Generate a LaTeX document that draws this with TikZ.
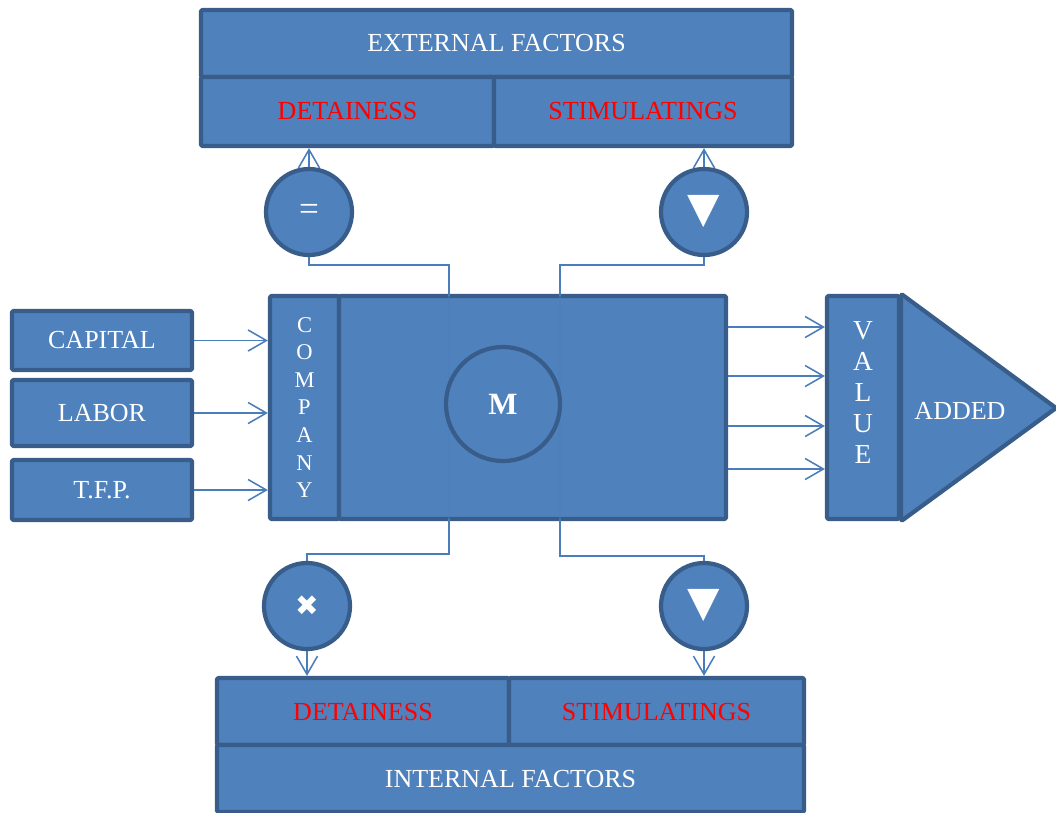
\documentclass[tikz,border=0pt]{standalone}
\usepackage{fontspec}
\setmainfont{Liberation Serif}
\newfontfamily\symfont{DejaVu Sans}
\usetikzlibrary{arrows.meta}

\definecolor{boxfill}{HTML}{4F81BD}
\definecolor{boxline}{HTML}{385D8A}
\definecolor{linkcol}{HTML}{4A7EBB}

\tikzset{
  box/.style={draw=boxline, fill=boxfill, line width=3pt, line join=round, rounded corners=1pt,
    inner sep=0pt, text=white, font=\fontsize{18.5}{22}\selectfont},
  redbox/.style={box, text=red},
  disc/.style={circle, draw=boxline, fill=boxfill, line width=3pt, inner sep=0pt,
    minimum size=2.15cm, text=white},
  link/.style={draw=linkcol, line width=1.1pt},
  arr/.style={link, -{Straight Barb[length=13pt,width=15pt]}},
}

\begin{document}
\begin{tikzpicture}[x=0.025cm,y=-0.025cm]
\useasboundingbox (0,0) rectangle (1056,812);

% external factors
\node[box, minimum width=14.775cm, minimum height=1.675cm] (ext) at (496.5,43.5) {EXTERNAL FACTORS};
\node[redbox, minimum width=7.325cm, minimum height=1.725cm] (tdet) at (347.5,111.5) {DETAINESS};
\node[redbox, minimum width=7.45cm, minimum height=1.725cm] (tstim) at (643,111.5) {STIMULATINGS};

% inputs
\node[box, minimum width=4.5cm, minimum height=1.475cm] (capital) at (102,340.5) {CAPITAL};
\node[box, minimum width=4.5cm, minimum height=1.65cm] (labor) at (102,413) {LABOR};
\node[box, minimum width=4.5cm, minimum height=1.5cm] (tfp) at (102,490) {T.F.P.};

% company
\node[box, align=center, minimum width=1.725cm, minimum height=5.575cm,
  font=\fontsize{16}{19.6}\selectfont] (company) at (304.5,407.5) {C\\O\\M\\P\\A\\N\\Y};
\node[box, minimum width=9.675cm, minimum height=5.575cm] (main) at (532.5,407.5) {};

% value added
\node[box, minimum width=1.8cm, minimum height=5.575cm] (value) at (863,407.5) {};
\draw[box] (value.north east) -- (1056,408) -- (value.south east) -- cycle;
\node[align=center, text=white, font=\fontsize{19.5}{22.2}\selectfont] (valtext) at (863,392.5) {V\\A\\L\\U\\E};
\node[text=white, font=\fontsize{18.5}{22}\selectfont] (added) at (960,411) {ADDED};

% internal factors
\node[redbox, minimum width=7.3cm, minimum height=1.675cm] (bdet) at (363,711.5) {DETAINESS};
\node[redbox, minimum width=7.375cm, minimum height=1.675cm] (bstim) at (656.5,711.5) {STIMULATINGS};
\node[box, minimum width=14.675cm, minimum height=1.675cm] (int) at (510.5,778.5) {INTERNAL FACTORS};

% signs
\node[disc, font=\fontsize{25}{28}\selectfont] (eqc) at (309,212) {=};
\node[disc, font=\symfont\fontsize{30}{34}\selectfont] (trc1) at (704,212) {▼};
\node[disc, font=\symfont\fontsize{20}{22}\selectfont] (crossc) at (307,606) {✖};
\node[disc, font=\symfont\fontsize{30}{34}\selectfont] (trc2) at (704,606) {▼};

% taps on the company box
\coordinate (tapA) at (449,296);
\coordinate (tapB) at (560,296);
\coordinate (tapC) at (449,519);
\coordinate (tapD) at (560,519);

\draw[link] (tapA) -- ++(0,-31) -| (eqc.south);
\draw[link] (tapB) -- ++(0,-31) -| (trc1.south);
\draw[link] (tapC) -- ++(0,35) -| (crossc.north);
\draw[link] (tapD) -- ++(0,37) -| (trc2.north);
\draw[link, draw opacity=0.45] (tapA) -- (tapC);
\draw[link, draw opacity=0.45] (tapB) -- (tapD);

\draw[arr] (eqc.north) -- (eqc.north |- tdet.south);
\draw[arr] (trc1.north) -- (trc1.north |- tstim.south);
\draw[arr] (crossc.south) -- (crossc.south |- bdet.north);
\draw[arr] (trc2.south) -- (trc2.south |- bstim.north);

\draw[arr] (capital.east) -- (capital.east -| company.west);
\draw[arr] (labor.east) -- (labor.east -| company.west);
\draw[arr] (tfp.east) -- (tfp.east -| company.west);

\foreach \yy in {327,376,426,469}
  \draw[arr] (main.east |- 0,\yy) -- (value.west |- 0,\yy);

\node[disc, minimum size=2.85cm, font=\bfseries\fontsize{22}{26}\selectfont] (mc) at (503,404) {M};
\end{tikzpicture}
\end{document}
